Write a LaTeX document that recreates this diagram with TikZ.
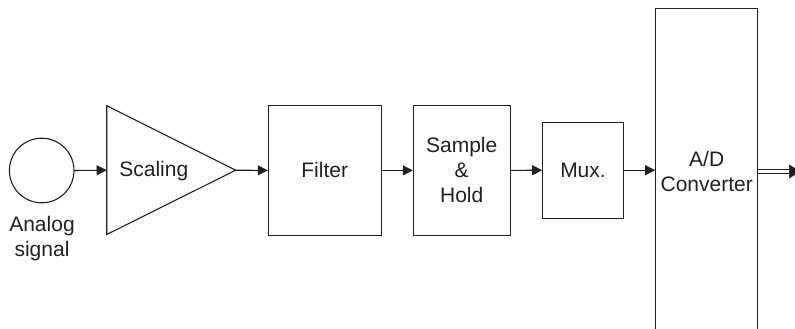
\documentclass[tikz,border=0pt]{standalone}
\usepackage{fontspec}
\setmainfont{Liberation Sans}
\usetikzlibrary{arrows.meta}
\definecolor{ink}{HTML}{231F20}
\tikzset{
  blk/.style={draw=ink, line width=1.1pt, align=center, inner sep=0pt, text=ink},
  lbl/.style={align=center, inner sep=0pt, text=ink},
  conn/.style={draw=ink, line width=1.1pt, -{Triangle[length=10pt,width=10pt]}},
  every node/.style={font=\fontsize{21}{25}\selectfont}
}
\begin{document}
\begin{tikzpicture}[x=1pt,y=-1pt]
\useasboundingbox (0,0) rectangle (795,329);
% analog signal source
\node[blk, circle, minimum size=64.6pt] (sig) at (41.7,170.5) {};
\node[lbl] (siglbl) at (42,238.5) {Analog\\signal};
% scaling amplifier
\coordinate (sclin) at (106.7,170.2);
\coordinate (sclout) at (235.7,170.2);
\draw[ink, line width=1.1pt, line join=miter] (106.7,105.7) -- (sclout) -- (106.7,234.5) -- cycle;
\node[lbl, anchor=base] (scltxt) at (153.8,176) {Scaling};
% blocks
\node[blk, minimum width=112.7pt, minimum height=129.3pt] (flt) at (324.7,170.4) {Filter};
\node[blk, minimum width=96.7pt, minimum height=129.3pt] (sh) at (461.7,170.4) {Sample\\\&\\Hold};
\node[blk, minimum width=80.6pt, minimum height=96.3pt] (mux) at (583,170.2) {Mux.};
\node[blk, minimum width=102pt, minimum height=325.4pt] (ad) at (706.7,171) {A/D\\Converter};
% connectors
\draw[conn] (sig.east) -- (sclin);
\draw[conn] (sclout) -- (flt.west);
\draw[conn] (flt.east) -- (sh.west);
\draw[conn] (sh.east) -- (mux.west);
\draw[conn] (mux.east) -- (mux.east -| ad.west);
% output double line
\coordinate (outend) at (800,171.5);
\coordinate (outhead) at (789,171.5);
\draw[ink, line width=1.1pt, double=white, double distance=2.6pt] (ad.east |- outend) -- (outhead);
\draw[ink, line width=0.5pt, -{Triangle[length=11pt,width=14pt]}] (outhead) -- (outend);
\end{tikzpicture}
\end{document}
